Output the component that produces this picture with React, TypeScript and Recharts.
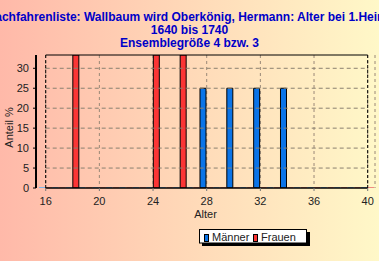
import React from 'react';
import { BarChart, Bar, XAxis, YAxis, CartesianGrid, ReferenceLine, Cell } from 'recharts';

const titleLines = [
  'Nachfahrenliste: Wallbaum wird Oberkönig, Hermann: Alter bei 1.Heirat',
  '1640 bis 1740',
  'Ensemblegröße 4 bzw. 3',
];
const ages = [16, 17, 18, 19, 20, 21, 22, 23, 24, 25, 26, 27, 28, 29, 30, 31, 32, 33, 34, 35, 36, 37, 38, 39, 40];
const maenner = [0, 0, 0, 0, 0, 0, 0, 0, 0, 0, 0, 0, 25, 0, 25, 0, 25, 0, 25, 0, 0, 0, 0, 0, 0];
const frauen = [0, 0, 33.33, 0, 0, 0, 0, 0, 33.33, 0, 33.33, 0, 0, 0, 0, 0, 0, 0, 0, 0, 0, 0, 0, 0, 0];
const seriesNames = ['Männer', 'Frauen'];
const xTicks = [16, 20, 24, 28, 32, 36, 40];
const yTicks = [0, 5, 10, 15, 20, 25, 30];
const hGrid = [5, 10, 15, 20, 25, 30];
const yMax = 33.33;
const xLabel = 'Alter';
const yLabel = 'Anteil %';

const BLUE = '#0a74e8';
const RED = '#fb3535';
const FONT = '"Liberation Sans", Arial, sans-serif';

const data = ages.map((a, i) => ({ age: a, m: maenner[i], f: frauen[i] }));

export default function App() {
  const first = ages[0];
  const last = ages[ages.length - 1];
  return (
    <div
      style={{
        position: 'absolute',
        left: 0,
        top: 0,
        width: 379,
        height: 261,
        overflow: 'hidden',
        background: 'linear-gradient(to right, #ffb9a9 0%, #ffd9b8 50%, #fff8c8 100%)',
        fontFamily: FONT,
      }}
    >
      <BarChart
        width={379}
        height={261}
        data={data}
        margin={{ top: 55, right: 4, bottom: 43, left: 0 }}
        barSize={6}
        barGap={1}
      >
        <CartesianGrid horizontal={false} vertical stroke="#9a8878" strokeDasharray="3 3" />
        {hGrid.map((v) => (
          <ReferenceLine
            key={v}
            segment={[{ x: first, y: v }, { x: last, y: v }]}
            stroke="#8a8070"
            strokeDasharray="4 3"
            ifOverflow="visible"
          />
        ))}
        <XAxis
          dataKey="age"
          type="category"
          ticks={xTicks}
          interval={0}
          padding={{ left: 3, right: 0.6 }}
          height={30}
          axisLine={false}
          tickLine={{ stroke: '#777' }}
          tickSize={3}
          tickMargin={6}
          tick={{ fill: '#222', fontSize: 11, fontFamily: FONT }}
          label={{ value: xLabel, position: 'insideBottom', offset: 0, fill: '#222', fontSize: 11, fontFamily: FONT }}
        />
        <YAxis
          type="number"
          domain={[0, yMax]}
          ticks={yTicks}
          allowDataOverflow
          width={36}
          axisLine={{ stroke: '#000', strokeWidth: 2 }}
          tickLine={{ stroke: '#000' }}
          tickSize={3}
          tickMargin={4}
          tick={{ fill: '#222', fontSize: 11, fontFamily: FONT }}
          label={{ value: yLabel, angle: -90, position: 'center', dx: -9, dy: 6, fill: '#222', fontSize: 11, fontFamily: FONT }}
        />
        <Bar dataKey="m" name={seriesNames[0]} fill={BLUE} isAnimationActive={false} minPointSize={1}>
          {data.map((d, i) => (
            <Cell key={i} fill={d.m > 0 ? BLUE : '#7fb6e8'} stroke={d.m > 0 ? '#000' : 'none'} strokeWidth={1} />
          ))}
        </Bar>
        <Bar dataKey="f" name={seriesNames[1]} fill={RED} isAnimationActive={false} minPointSize={1}>
          {data.map((d, i) => (
            <Cell key={i} fill={d.f > 0 ? RED : '#f08a80'} stroke={d.f > 0 ? '#000' : 'none'} strokeWidth={1} />
          ))}
        </Bar>
        <ReferenceLine segment={[{ x: first, y: 0 }, { x: last, y: 0 }]} stroke="#000" strokeWidth={1.5} ifOverflow="visible" />
        <ReferenceLine segment={[{ x: first, y: yMax }, { x: last, y: yMax }]} stroke="#000" strokeWidth={1} ifOverflow="visible" />
        <ReferenceLine x={first} stroke="#000" strokeDasharray="3 2" />
        <ReferenceLine x={last} stroke="#000" strokeDasharray="3 2" />
      </BarChart>
      <svg
        width={379}
        height={261}
        style={{ position: 'absolute', left: 0, top: 0, pointerEvents: 'none' }}
      >
        {titleLines.map((t, i) => (
          <text
            key={i}
            x={189.5}
            y={[20.5, 34, 46.5][i]}
            textAnchor="middle"
            fontFamily={FONT}
            fontWeight="bold"
            fontSize={12}
            fill="#0000c8"
          >
            {t}
          </text>
        ))}
        <rect x={202} y={232} width={108} height={14} fill="#000" />
        <rect x={199.5} y={229.5} width={107} height={13.5} fill="#fff" stroke="#000" strokeWidth={1} />
        <rect x={204.5} y={234.5} width={4} height={7} fill={BLUE} stroke="#000" strokeWidth={1} />
        <text x={212} y={241} fontFamily={FONT} fontSize={11} fill="#222">{seriesNames[0]}</text>
        <rect x={253.5} y={234.5} width={4} height={7} fill={RED} stroke="#000" strokeWidth={1} />
        <text x={261} y={241} fontFamily={FONT} fontSize={11} fill="#222">{seriesNames[1]}</text>
      </svg>
    </div>
  );
}
